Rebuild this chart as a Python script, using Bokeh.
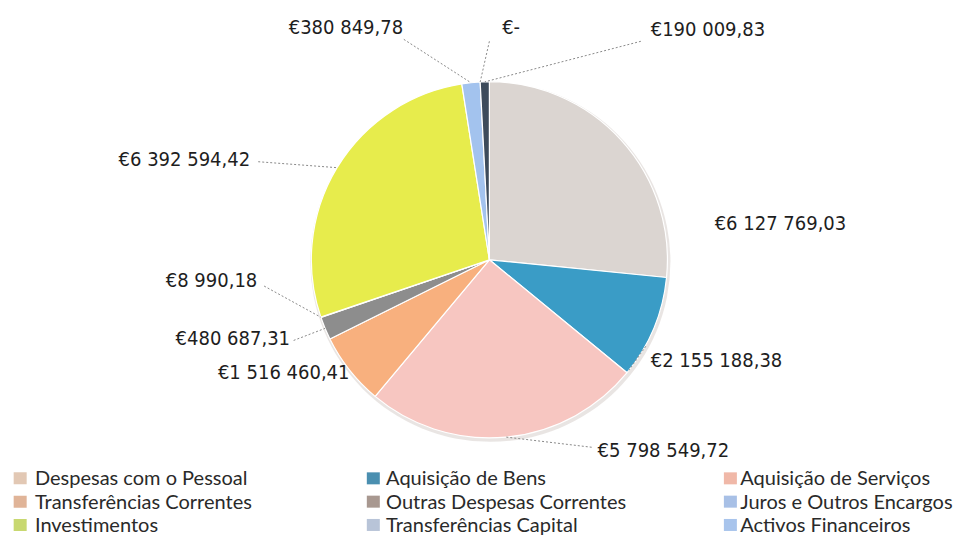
import math
from bokeh.plotting import figure
from bokeh.models import Range1d, ColumnDataSource
from bokeh.embed import file_html
from bokeh.resources import INLINE
from bokeh.core.properties import value

# ---------------- data ----------------
categories = ["Despesas com o Pessoal", "Aquisição de Bens", "Aquisição de Serviços",
              "Transferências Correntes", "Outras Despesas Correntes", "Juros e Outros Encargos",
              "Investimentos", "Transferências Capital", "Activos Financeiros", "Passivos Financeiros"]
values = [6127769.03, 2155188.38, 5798549.72, 1516460.41, 480687.31,
          8990.18, 6392594.42, 380849.78, 0.0, 190009.83]
legend_shown = 9  # entries visible in the (cropped) legend

# ---------------- styles ----------------
colors = ["#DBD5D1", "#3A9CC6", "#F7C6C1", "#F8B07E", "#8D8D8D",
          "#C4C0E2", "#E7EC4C", "#A3C3EE", "#A9C2EA", "#3D4B5B"]
icon_colors = ["#E2C8B4", "#4A8FB0", "#F0B8A8", "#E0B498", "#A89890",
               "#A8C0E6", "#C8D870", "#B8C4D8", "#A8C4EC"]

W, H = 964, 540
SX, SY = W / 980.0, H / 556.0
def sx(X): return X * SX
def sy(Y): return H - Y * SY

CX, CY, R = 497, 267, 181

# label layout (reference px: left x, centre y), leader start and anchor fraction in slice
label_pos = [(726, 229), (661, 370), (607, 463), (221, 382), (178, 347),
             (168, 288), (120, 163), (293, 27), (510, 27), (661, 29)]
leader_from = [None, (656, 356), (601, 460), None, (298, 350),
               (268, 294), (262, 166), (410, 40), (497, 42), (651, 42)]
anchor_frac = [0.5, 0.97, 0.5, 0.5, 0.5, 0.5, 0.5, 0.5, 0.5, 0.5]


def fmt_eur(v):
    if v == 0:
        return "€-"
    whole = int(v)
    cents = int(round((v - whole) * 100))
    s = f"{whole:,}".replace(",", " ")
    return f"€{s},{cents:02d}"

total = sum(values)
starts, ends = [], []
acc = 0.0
for v in values:
    starts.append(acc / total * 2 * math.pi)
    acc += v
    ends.append(acc / total * 2 * math.pi)

p = figure(width=W, height=H, x_range=Range1d(0, W), y_range=Range1d(0, H),
           output_backend="svg", toolbar_location=None, min_border=0)
p.axis.visible = False
p.grid.visible = False
p.outline_line_color = None
p.background_fill_color = "white"

Rp = R * SX
# shadow ring
p.circle(x=[sx(CX) + 1], y=[sy(CY) - 2], radius=Rp + 2, fill_color="#E4DEDC",
         line_color=None, fill_alpha=0.8)

idx = [i for i, v in enumerate(values) if v > 0]
src = ColumnDataSource(dict(
    x=[sx(CX)] * len(idx), y=[sy(CY)] * len(idx),
    start=[math.pi / 2 - starts[i] for i in idx],
    end=[math.pi / 2 - ends[i] for i in idx],
    color=[colors[i] for i in idx],
))
p.wedge(x="x", y="y", radius=Rp, start_angle="start", end_angle="end",
        direction="clock", fill_color="color", line_color="white", line_width=1.2,
        source=src)

# leader lines
for i, v in enumerate(values):
    if leader_from[i] is None:
        continue
    a = starts[i] + anchor_frac[i] * (ends[i] - starts[i])
    tx = sx(CX) + Rp * math.sin(a)
    ty = sy(CY) + Rp * math.cos(a)
    fx, fy = leader_from[i]
    p.line(x=[sx(fx), tx], y=[sy(fy), ty], line_color="#8A8A8A",
           line_width=1, line_dash="2 2")

# value labels
p.text(x=[sx(x) for x, _ in label_pos], y=[sy(y) for _, y in label_pos],
       text=[fmt_eur(v) for v in values], text_font=value("DejaVu Sans Condensed"),
       text_font_size="20px", text_color="#1E1E1E", text_align="left",
       text_baseline="middle")

# legend (3 columns)
col_icon = [13, 372, 735]
col_text = [35, 392, 752]
row_y = [491, 515, 539]
lx, ly, lt, lc, ix, iy = [], [], [], [], [], []
for k in range(legend_shown):
    r, c = divmod(k, 3)
    lx.append(sx(col_text[c]))
    ly.append(sy(row_y[r]))
    lt.append(categories[k])
    ix.append(sx(col_icon[c] + 7))
    iy.append(sy(row_y[r] + 1))
    lc.append(icon_colors[k])
p.rect(x=ix, y=iy, width=13, height=12, fill_color=lc, line_color=None)
p.text(x=lx, y=ly, text=lt, text_font=value("Lato"), text_font_size="20px",
       text_color="#2A2A2A", text_align="left", text_baseline="middle")

open("out.html", "w").write(file_html(p, INLINE))
